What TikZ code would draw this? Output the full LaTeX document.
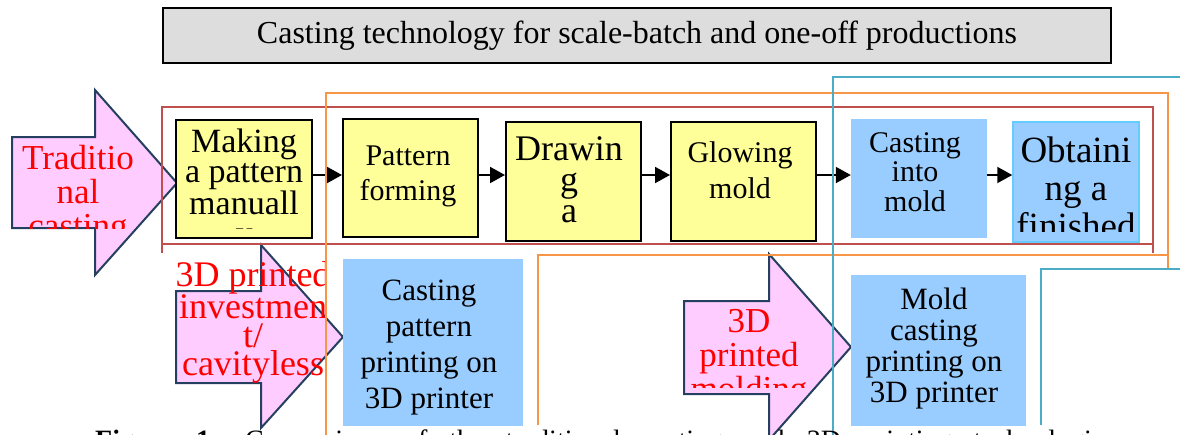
\documentclass[tikz,border=0pt]{standalone}
\usepackage{fontspec}
\setmainfont{Liberation Serif}
\usetikzlibrary{arrows.meta}
\definecolor{pinkfill}{HTML}{FFCCFF}
\definecolor{navyedge}{HTML}{243F60}
\definecolor{yellowfill}{HTML}{FFFF99}
\definecolor{bluefill}{HTML}{99CCFF}
\definecolor{blueedge}{HTML}{66CCFF}
\definecolor{redframe}{HTML}{C0504D}
\definecolor{orangeframe}{HTML}{F79646}
\definecolor{tealframe}{HTML}{4BACC6}
\definecolor{titlegray}{HTML}{DDDDDD}
\begin{document}
\begin{tikzpicture}[x=1pt,y=-1pt,
  blockarrow/.style={fill=pinkfill,draw=navyedge,line width=2pt,line join=miter},
  ybox/.style={fill=yellowfill,draw=black,line width=2pt,inner sep=0pt},
  bbox/.style={fill=bluefill,inner sep=0pt},
  frameline/.style={line width=2pt},
  conn/.style={line width=2pt,-{Triangle[length=15pt,width=16pt]}},
  redtxt/.style={text=red,align=center,inner sep=0pt,anchor=base},
  boxtxt/.style={text=black,align=center,inner sep=0pt,anchor=base}]
\useasboundingbox (0,0) rectangle (1180,434);
\clip (0,0) rectangle (1180,434);

% title
\node[draw=black,fill=titlegray,line width=1.5pt,minimum width=948pt,minimum height=55pt,inner sep=0pt,
  font=\fontsize{32}{36}\selectfont] (title) at (637,35.5) {Casting technology for scale-batch and one-off productions};

% block arrows
\draw[blockarrow] (12,137) -- (95,137) -- (95,90) -- (177,183) -- (95,275) -- (95,228) -- (12,228) -- cycle;
\draw[blockarrow] (176,291) -- (261,291) -- (261,245) -- (343,337) -- (261,428) -- (261,383) -- (176,383) -- cycle;
\draw[blockarrow] (684,301) -- (769,301) -- (769,254) -- (851,347) -- (769,440) -- (769,394) -- (684,394) -- cycle;

% boxes
\node[ybox,minimum width=136pt,minimum height=118pt] (b1) at (244,179) {};
\node[ybox,minimum width=135pt,minimum height=118pt] (b2) at (410.5,178) {};
\node[ybox,minimum width=135pt,minimum height=119pt] (b3) at (573.5,181.5) {};
\node[ybox,minimum width=145pt,minimum height=119pt] (b4) at (743.5,181.5) {};
\node[bbox,minimum width=136pt,minimum height=119pt] (b5) at (919,178.5) {};
\node[bbox,draw=blueedge,line width=1.5pt,minimum width=126pt,minimum height=120pt] (b6) at (1076,182) {};
\node[bbox,minimum width=180pt,minimum height=167pt] (b7) at (433,342.5) {};
\node[bbox,minimum width=175pt,minimum height=151pt] (b8) at (938.5,350.5) {};

% connectors
\draw[conn] (b1.east |- 0,175) -- (b2.west |- 0,175);
\draw[conn] (b2.east |- 0,175) -- (b3.west |- 0,175);
\draw[conn] (b3.east |- 0,175) -- (b4.west |- 0,175);
\draw[conn] (b4.east |- 0,175) -- (b5.west |- 0,175);
\draw[conn] (b5.east |- 0,175) -- (b6.west |- 0,175);

% arrow texts (anchor = baseline of the last line)
\begin{scope}
\clip (12,90) rectangle (177,228);
\node[redtxt,font=\fontsize{35}{34}\selectfont] (a1t) at (78,237) {Traditio\\nal\\casting};
\end{scope}
\begin{scope}
\clip (176,245) rectangle (326,395);
\node[redtxt,font=\fontsize{36}{28.5}\selectfont] (a2t) at (253,375.5) {3D printed\\investmen\\t/\\cavityless};
\end{scope}
\begin{scope}
\clip (684,254) rectangle (851,387);
\node[redtxt,font=\fontsize{35}{34}\selectfont] (a3t) at (749,400) {3D\\printed\\molding};
\end{scope}

% box texts
\begin{scope}
\clip (176,120) rectangle (312,228);
\node[boxtxt,font=\fontsize{34}{30}\selectfont] (b1t) at (244,244) {Making\\a pattern\\manuall\\y};
\end{scope}
\node[boxtxt,font=\fontsize{30}{35}\selectfont] (b2t) at (408,200) {Pattern\\forming};
\begin{scope}
\clip (506,122) rectangle (641,241);
\node[boxtxt,font=\fontsize{36}{31}\selectfont] (b3t) at (569,222) {Drawin\\g\\a};
\end{scope}
\node[boxtxt,font=\fontsize{30}{36}\selectfont] (b4t) at (740,198) {Glowing\\mold};
\node[boxtxt,font=\fontsize{30}{29.5}\selectfont] (b5t) at (915,211) {Casting\\into\\mold};
\begin{scope}
\clip (1013,122) rectangle (1139,231);
\node[boxtxt,font=\fontsize{37}{38}\selectfont] (b6t) at (1076,238) {Obtaini\\ng a\\finished};
\end{scope}
\node[boxtxt,font=\fontsize{31}{36}\selectfont] (b7t) at (429,408) {Casting\\pattern\\printing on\\3D printer};
\node[boxtxt,font=\fontsize{31}{30.7}\selectfont] (b8t) at (934,402) {Mold\\casting\\printing on\\3D printer};

% frames
\draw[frameline,redframe] (162,253) -- (162,107) -- (1153,107) -- (1153,253);
\draw[frameline,redframe] (162,244) -- (1153,244);
\draw[frameline,orangeframe] (326,440) -- (326,93) -- (1168,93) -- (1168,268);
\draw[frameline,orangeframe] (538,425) -- (538,255) -- (1168,255);
\draw[frameline,tealframe] (1190,77) -- (833,77) -- (833,440);
\draw[frameline,tealframe] (1190,269) -- (1041,269) -- (1041,425);

% caption (cut off at the bottom)
\node[anchor=base west,inner sep=0pt,font=\fontsize{28}{30}\selectfont] (cap) at (95,449)
  {\makebox[1020pt][s]{\textbf{Figure 1.}\quad Comparison of the traditional casting and 3D printing technologies}};
\end{tikzpicture}
\end{document}
